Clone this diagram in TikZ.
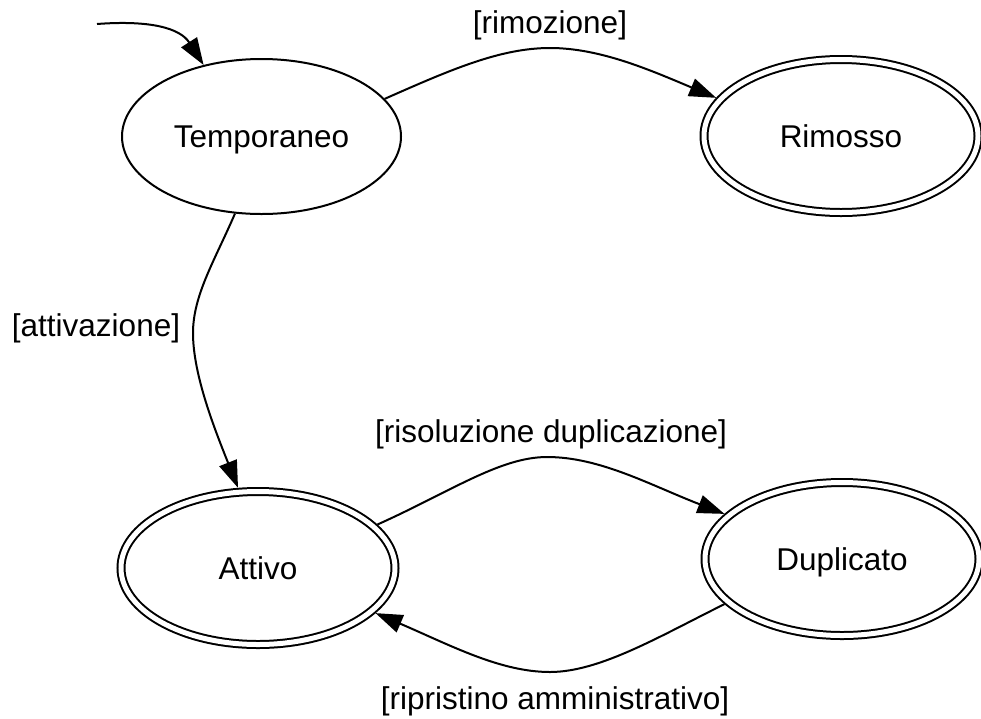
\documentclass[tikz,border=0pt]{standalone}
\usepackage{fontspec}
\setmainfont{Liberation Sans}
\usetikzlibrary{arrows.meta,shapes.geometric}

\tikzset{
  state/.style={ellipse, draw, line width=2pt, inner sep=0pt,
    minimum width=279pt, minimum height=155pt, outer sep=1pt,
    text height=22.4pt, text depth=0pt},
  final/.style={ellipse, draw, line width=2pt, double, double distance=5pt,
    inner sep=0pt, minimum width=274pt, minimum height=153pt, outer sep=4.5pt,
    text height=22.4pt, text depth=0pt},
  trans/.style={line width=2pt, -{Triangle[length=27pt,width=18.5pt]}},
  guard/.style={inner sep=0pt}
}

\begin{document}
\begin{tikzpicture}[x=1pt, y=-1pt, font=\fontsize{31.5}{38}\selectfont]
  \useasboundingbox (0,0) rectangle (981,718);

  % states
  \node[state] (temp) at (261.5,136.5) {Temporaneo};
  \node[final] (rim)  at (841,136)     {Rimosso};
  \node[final] (att)  at (258,568)     {Attivo};
  \node[final] (dup)  at (842,559)     {Duplicato};

  % initial transition
  \coordinate (init) at (97,24);
  \draw[trans] (init) .. controls (150,20) and (180,28) .. (temp.129.5);

  % transitions
  \draw[trans] (temp.17) .. controls (450,70) and (500,48) .. (550,48)
    .. controls (600,48) and (650,70) .. (rim.163);
  \draw[trans] (temp.251.4) .. controls (215,260) and (193,295) .. (193,333)
    .. controls (193,375) and (215,430) .. (att.104.4);
  \draw[trans] (att.20) .. controls (450,492) and (500,457) .. (547,457)
    .. controls (600,457) and (650,485) .. (dup.159.6);
  \draw[trans] (dup.201.5) .. controls (660,636) and (600,672) .. (550,672)
    .. controls (500,672) and (450,645) .. (att.339.6);

  % guards
  \node[guard] (grim) at (550,25)  {[rimozione]};
  \node[guard] (gatt) at (96,328)  {[attivazione]};
  \node[guard] (gdup) at (551,434) {[risoluzione duplicazione]};
  \node[guard] (gres) at (555,701) {[ripristino amministrativo]};
\end{tikzpicture}
\end{document}
